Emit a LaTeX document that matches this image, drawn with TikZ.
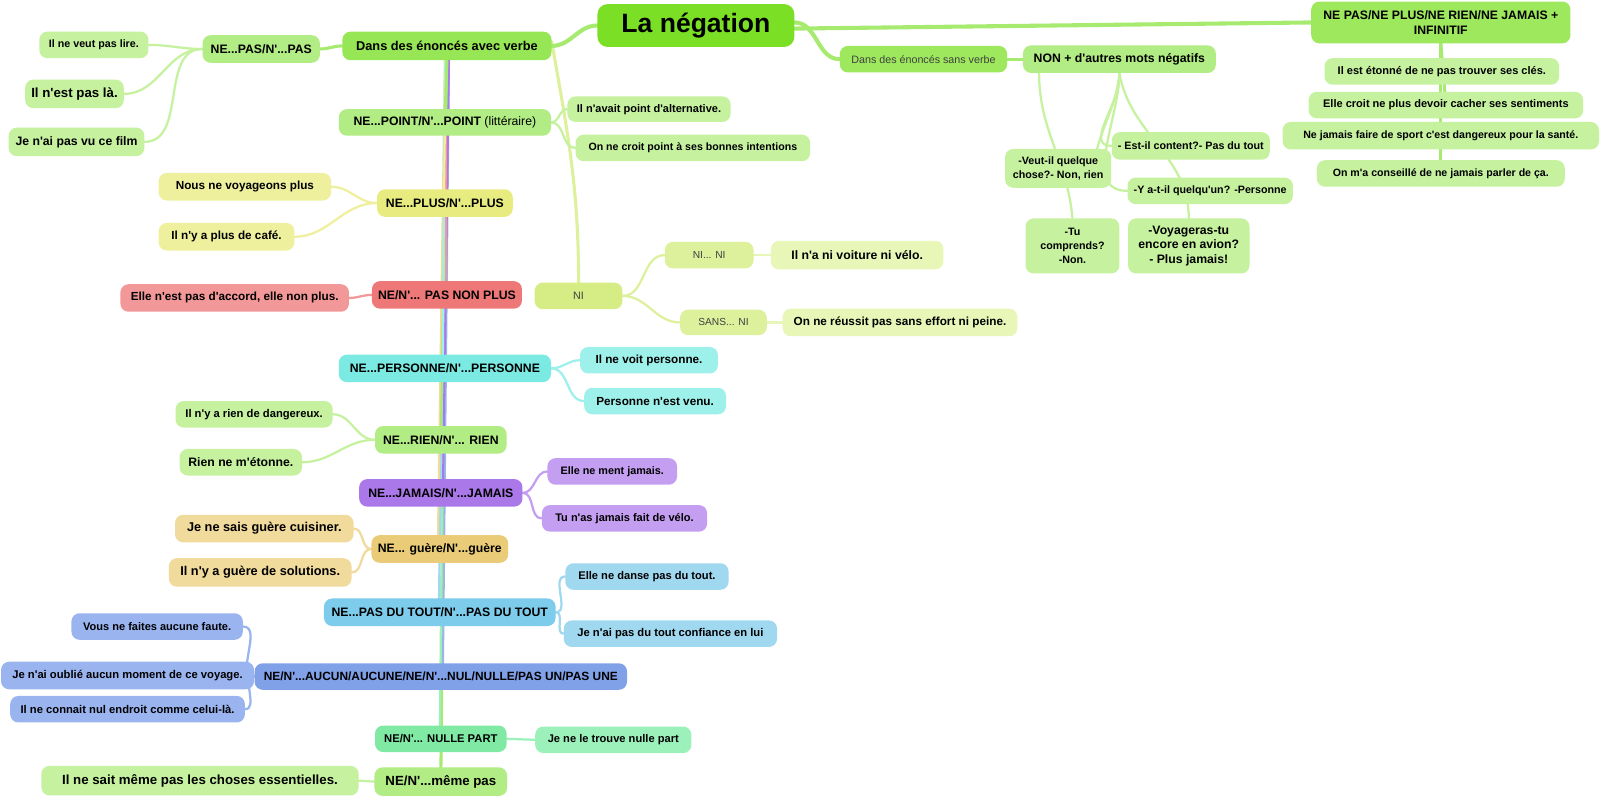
\documentclass[tikz,border=0pt]{standalone}
\usepackage{fontspec}
\newfontfamily\mapfont{Liberation Sans}
\usetikzlibrary{backgrounds}
\definecolor{rootgreen}{HTML}{7BE025}
\definecolor{maingreen}{HTML}{96E655}
\definecolor{sidegreen}{HTML}{9DE85C}
\definecolor{topgreen}{HTML}{B2EC84}
\definecolor{leafgreen}{HTML}{C6F2A0}
\definecolor{linkgreen}{HTML}{A6EA70}
\definecolor{topyellow}{HTML}{E8EC80}
\definecolor{leafyellow}{HTML}{EEF09E}
\definecolor{topred}{HTML}{EE7878}
\definecolor{leafred}{HTML}{F29898}
\definecolor{ninode}{HTML}{D6EC84}
\definecolor{nisub}{HTML}{DDF09C}
\definecolor{nileaf}{HTML}{E8F6B8}
\definecolor{topcyan}{HTML}{7AEAE2}
\definecolor{leafcyan}{HTML}{9EF0EA}
\definecolor{toppurple}{HTML}{AA78E8}
\definecolor{leafpurple}{HTML}{C49EF0}
\definecolor{toptan}{HTML}{EACC78}
\definecolor{leaftan}{HTML}{F0DA9C}
\definecolor{topsky}{HTML}{7ECCEC}
\definecolor{leafsky}{HTML}{A0D8F0}
\definecolor{topblue}{HTML}{80A0E8}
\definecolor{leafblue}{HTML}{9AB4F0}
\definecolor{topmint}{HTML}{80EAA4}
\definecolor{leafmint}{HTML}{9CF0BA}

\begin{document}
\begin{tikzpicture}[x=1pt,y=-1pt,
	box/.style={rounded corners=8pt, inner xsep=6pt, inner ysep=2pt, text=black, align=center},
	sz/.style={font=\mapfont\bfseries\fontsize{#1}{14}\selectfont},
	lightsz/.style={font=\mapfont\fontsize{#1}{14}\selectfont, text=black!75},
	link/.style={line width=3pt, line cap=round},
	trunk/.style={line width=2pt, line cap=round},
	twig/.style={line width=2.2pt, line cap=round}]
	\useasboundingbox (0,0) rectangle (1568,782);

	% centre
	\node[box, rounded corners=10pt, fill=rootgreen, minimum width=193pt, minimum height=42pt,
		font=\mapfont\bfseries\fontsize{26}{28}\selectfont] (root) at (682,25) {La négation};
	\node[box, sz=12.5, fill=maingreen, minimum width=205pt, minimum height=28pt] (verbe) at (438,45) {Dans des énoncés avec verbe};
	\node[box, lightsz=10.5, fill=sidegreen, minimum width=164pt, minimum height=26pt] (sans) at (905,58) {Dans des énoncés sans verbe};
	\node[box, fill=sidegreen, minimum width=254pt, minimum height=41pt,
		font=\mapfont\bfseries\fontsize{12}{15}\selectfont] (infin) at (1412,22) {NE PAS/NE PLUS/NE RIEN/NE JAMAIS +\\INFINITIF};

	% avec verbe
	\node[box, sz=12, fill=topgreen, minimum width=115pt, minimum height=27pt] (pas) at (256,48) {NE...PAS/N'...PAS};
	\node[box, sz=10.5, fill=leafgreen, minimum width=107pt, minimum height=26pt] (pas1) at (92,44) {Il ne veut pas lire.};
	\node[box, sz=13, fill=leafgreen, minimum width=90pt, minimum height=28pt] (pas2) at (73,92) {Il n'est pas là.};
	\node[box, sz=12, fill=leafgreen, minimum width=133pt, minimum height=28pt] (pas3) at (75,139) {Je n'ai pas vu ce film};

	\node[box, sz=12, fill=topgreen, minimum width=208pt, minimum height=26pt] (point) at (436,120) {NE...POINT/N'...POINT \mdseries(littéraire)};
	\node[box, sz=10.8, fill=leafgreen, minimum width=160pt, minimum height=25pt] (point1) at (636,107) {Il n'avait point d'alternative.};
	\node[box, sz=10.4, fill=leafgreen, minimum width=230pt, minimum height=26pt] (point2) at (679,145) {On ne croit point à ses bonnes intentions};

	\node[box, sz=12, fill=topyellow, minimum width=133pt, minimum height=27pt] (plus) at (436,199) {NE...PLUS/N'...PLUS};
	\node[box, sz=11.5, fill=leafyellow, minimum width=169pt, minimum height=27pt] (plus1) at (240,183) {Nous ne voyageons plus};
	\node[box, sz=11.5, fill=leafyellow, minimum width=133pt, minimum height=27pt] (plus2) at (222,232) {Il n'y a plus de café.};

	\node[box, sz=12, fill=topred, minimum width=145pt, minimum height=27pt] (nonplus) at (438,289) {NE/N'... PAS NON PLUS};
	\node[box, sz=11.5, fill=leafred, minimum width=224pt, minimum height=27pt] (nonplus1) at (230,292) {Elle n'est pas d'accord, elle non plus.};

	\node[box, lightsz=10.5, fill=ninode, minimum width=86pt, minimum height=26pt] (ni) at (567,290) {NI};
	\node[box, lightsz=10, fill=nisub, minimum width=87pt, minimum height=26pt] (nini) at (695,250) {NI... NI};
	\node[box, sz=12, fill=nileaf, minimum width=169pt, minimum height=28pt] (nini1) at (840,250) {Il n'a ni voiture ni vélo.};
	\node[box, lightsz=10, fill=nisub, minimum width=85pt, minimum height=25pt] (sansni) at (709,316) {SANS... NI};
	\node[box, sz=11.5, fill=nileaf, minimum width=230pt, minimum height=27pt] (sansni1) at (882,316) {On ne réussit pas sans effort ni peine.};

	\node[box, sz=12, fill=topcyan, minimum width=208pt, minimum height=27pt] (pers) at (436,361) {NE...PERSONNE/N'...PERSONNE};
	\node[box, sz=11.5, fill=leafcyan, minimum width=135pt, minimum height=26pt] (pers1) at (636,353) {Il ne voit personne.};
	\node[box, sz=11.5, fill=leafcyan, minimum width=139pt, minimum height=26pt] (pers2) at (642,393) {Personne n'est venu.};

	\node[box, sz=12, fill=topgreen, minimum width=129pt, minimum height=27pt] (rien) at (432,431) {NE...RIEN/N'... RIEN};
	\node[box, sz=11, fill=leafgreen, minimum width=154pt, minimum height=26pt] (rien1) at (249,406) {Il n'y a rien de dangereux.};
	\node[box, sz=12, fill=leafgreen, minimum width=120pt, minimum height=26pt] (rien2) at (236,453) {Rien ne m'étonne.};

	\node[box, sz=12, fill=toppurple, minimum width=160pt, minimum height=27pt] (jam) at (432,483) {NE...JAMAIS/N'...JAMAIS};
	\node[box, sz=10.6, fill=leafpurple, minimum width=127pt, minimum height=26pt] (jam1) at (600,462) {Elle ne ment jamais.};
	\node[box, sz=10.8, fill=leafpurple, minimum width=162pt, minimum height=26pt] (jam2) at (612,508) {Tu n'as jamais fait de vélo.};

	\node[box, sz=12, fill=toptan, minimum width=134pt, minimum height=27pt] (guere) at (431,538) {NE... guère/N'...guère};
	\node[box, sz=12.5, fill=leaftan, minimum width=175pt, minimum height=27pt] (guere1) at (259,518) {Je ne sais guère cuisiner.};
	\node[box, sz=12.5, fill=leaftan, minimum width=179pt, minimum height=28pt] (guere2) at (255,561) {Il n'y a guère de solutions.};

	\node[box, sz=12, fill=topsky, minimum width=227pt, minimum height=27pt] (tout) at (431,600) {NE...PAS DU TOUT/N'...PAS DU TOUT};
	\node[box, sz=10.9, fill=leafsky, minimum width=160pt, minimum height=26pt] (tout1) at (634,565) {Elle ne danse pas du tout.};
	\node[box, sz=11, fill=leafsky, minimum width=209pt, minimum height=26pt] (tout2) at (657,621) {Je n'ai pas du tout confiance en lui};

	\node[box, sz=11.7, fill=topblue, minimum width=365pt, minimum height=26pt] (aucun) at (432,663) {NE/N'...AUCUN/AUCUNE/NE/N'...NUL/NULLE/PAS UN/PAS UNE};
	\node[box, sz=10.8, fill=leafblue, minimum width=168pt, minimum height=26pt] (aucun1) at (154,614) {Vous ne faites aucune faute.};
	\node[box, sz=11, fill=leafblue, minimum width=248pt, minimum height=27pt] (aucun2) at (125,662) {Je n'ai oublié aucun moment de ce voyage.};
	\node[box, sz=11, fill=leafblue, minimum width=230pt, minimum height=26pt] (aucun3) at (125,695) {Il ne connait nul endroit comme celui-là.};

	\node[box, sz=11, fill=topmint, minimum width=129pt, minimum height=26pt] (nulle) at (432,724) {NE/N'... NULLE PART};
	\node[box, sz=10.9, fill=leafmint, minimum width=153pt, minimum height=26pt] (nulle1) at (601,725) {Je ne le trouve nulle part};

	\node[box, sz=13, fill=topgreen, minimum width=130pt, minimum height=28pt] (meme) at (432,766) {NE/N'...même pas};
	\node[box, sz=13, fill=leafgreen, minimum width=311pt, minimum height=29pt] (meme1) at (196,765) {Il ne sait même pas les choses essentielles.};

	% sans verbe
	\node[box, sz=12, fill=topgreen, minimum width=189pt, minimum height=27pt] (non) at (1097,58) {NON + d'autres mots négatifs};
	\node[box, fill=leafgreen, minimum width=104pt, minimum height=38pt,
		font=\mapfont\bfseries\fontsize{10.5}{13}\selectfont] (non1) at (1037,165) {-Veut-il quelque\\chose?- Non, rien};
	\node[box, sz=10.5, fill=leafgreen, minimum width=153pt, minimum height=27pt] (non2) at (1167,143) {- Est-il content?- Pas du tout};
	\node[box, sz=10.5, fill=leafgreen, minimum width=162pt, minimum height=26pt] (non3) at (1186,187) {-Y a-t-il quelqu'un? -Personne};
	\node[box, fill=leafgreen, minimum width=92pt, minimum height=54pt,
		font=\mapfont\bfseries\fontsize{10.5}{14}\selectfont] (non4) at (1051,241) {-Tu\\comprends?\\-Non.};
	\node[box, fill=leafgreen, minimum width=119pt, minimum height=54pt,
		font=\mapfont\bfseries\fontsize{12}{14.5}\selectfont] (non5) at (1165,241) {-Voyageras-tu\\encore en avion?\\- Plus jamais!};

	% infinitif
	\node[box, sz=10.8, fill=leafgreen, minimum width=230pt, minimum height=26pt] (inf1) at (1413,70) {Il est étonné de ne pas trouver ses clés.};
	\node[box, sz=10.8, fill=leafgreen, minimum width=269pt, minimum height=26pt] (inf2) at (1417,103) {Elle croit ne plus devoir cacher ses sentiments};
	\node[box, sz=10.4, fill=leafgreen, minimum width=310pt, minimum height=27pt] (inf3) at (1412,133) {Ne jamais faire de sport c'est dangereux pour la santé.};
	\node[box, sz=10.4, fill=leafgreen, minimum width=243pt, minimum height=26pt] (inf4) at (1412,170) {On m'a conseillé de ne jamais parler de ça.};

	\begin{pgfonlayer}{background}
	\fill[white] (0,0) rectangle (1568,782);
	% tronc
	\draw[link, linkgreen] (verbe.south) -- (meme.center);
	\draw[trunk, leafmint] ([xshift=-1pt]verbe.south) -- ([xshift=-1pt]nulle.center);
	\draw[trunk, leafblue] ([xshift=2pt]verbe.south) -- ([xshift=2pt]aucun.center);
	\draw[trunk, leafsky] ([xshift=-1pt]verbe.south) -- ([xshift=-1pt]tout.center);
	\draw[trunk, leaftan] ([xshift=-2pt]verbe.south) -- ([xshift=-2pt]guere.center);
	\draw[trunk, toppurple] ([xshift=2pt]verbe.south) -- ([xshift=2pt]jam.center);
	\draw[trunk, linkgreen] (verbe.south) -- (rien.center);
	\draw[trunk, leafcyan] ([xshift=-2pt]verbe.south) -- ([xshift=-2pt]pers.center);
	\draw[trunk, leafred] ([xshift=-1pt]verbe.south) -- ([xshift=-1pt]nonplus.center);
	\draw[trunk, leafyellow] ([xshift=-1pt]verbe.south) -- ([xshift=-1pt]plus.center);
	\draw[link, linkgreen] (verbe.south) -- (point.center);
	\draw[link, nisub] ([yshift=4pt]verbe.east) to[out=-80,in=90] (ni.north);

	\draw[line width=4pt, line cap=round, linkgreen] (root.west) to[out=180,in=0] (verbe.east);
	\draw[line width=4pt, line cap=round, linkgreen] ([yshift=3pt]root.east) to[out=0,in=180] (sans.west);
	\draw[line width=4pt, line cap=round, linkgreen] ([yshift=-3pt]root.east) -- (infin.west);
	\draw[link, linkgreen] (verbe.west) to[out=180,in=0] (pas.east);

	\foreach \leaf in {pas1,pas2,pas3}
		\draw[twig, leafgreen] (pas.west) to[out=180,in=0] (\leaf.east);
	\foreach \leaf in {point1,point2}
		\draw[twig, leafgreen] (point.east) to[out=0,in=180] (\leaf.west);
	\foreach \leaf in {plus1,plus2}
		\draw[twig, leafyellow] (plus.west) to[out=180,in=0] (\leaf.east);
	\draw[twig, leafred] (nonplus.west) to[out=180,in=0] (nonplus1.east);
	\foreach \leaf in {nini,sansni}
		\draw[twig, nisub] (ni.east) to[out=0,in=180] (\leaf.west);
	\draw[twig, nileaf] (nini.east) -- (nini1.west);
	\draw[twig, nileaf] (sansni.east) -- (sansni1.west);
	\foreach \leaf in {pers1,pers2}
		\draw[twig, leafcyan] (pers.east) to[out=0,in=180] (\leaf.west);
	\foreach \leaf in {rien1,rien2}
		\draw[twig, leafgreen] (rien.west) to[out=180,in=0] (\leaf.east);
	\foreach \leaf in {jam1,jam2}
		\draw[twig, leafpurple] (jam.east) to[out=0,in=180] (\leaf.west);
	\foreach \leaf in {guere1,guere2}
		\draw[twig, leaftan] (guere.west) to[out=180,in=0] (\leaf.east);
	\foreach \leaf in {tout1,tout2}
		\draw[twig, leafsky] (tout.east) to[out=0,in=180] (\leaf.west);
	\foreach \leaf in {aucun1,aucun2,aucun3}
		\draw[twig, leafblue] (aucun.west) to[out=180,in=0] (\leaf.east);
	\draw[twig, leafmint] (nulle.east) -- (nulle1.west);
	\draw[twig, leafgreen] (meme.west) -- (meme1.east);

	\draw[link, linkgreen] (sans.east) -- (non.west);
	\draw[twig, leafgreen] ([xshift=16pt]non.south west) to[out=-90,in=95] (non4.north);
	\draw[twig, leafgreen] (non.south) to[out=-95,in=75] ([xshift=-14pt]non1.north east);
	\draw[twig, leafgreen] (non.south) to[out=-85,in=180] (non2.west);
	\draw[twig, leafgreen] (non.south) to[out=-90,in=180] (non3.west);
	\draw[twig, leafgreen] (non.south) to[out=-80,in=90] (non5.north);

	\foreach \leaf in {inf1,inf2,inf3,inf4}
		\draw[link, linkgreen] (infin.south) -- (\leaf.center);
	\end{pgfonlayer}
\end{tikzpicture}
\end{document}
